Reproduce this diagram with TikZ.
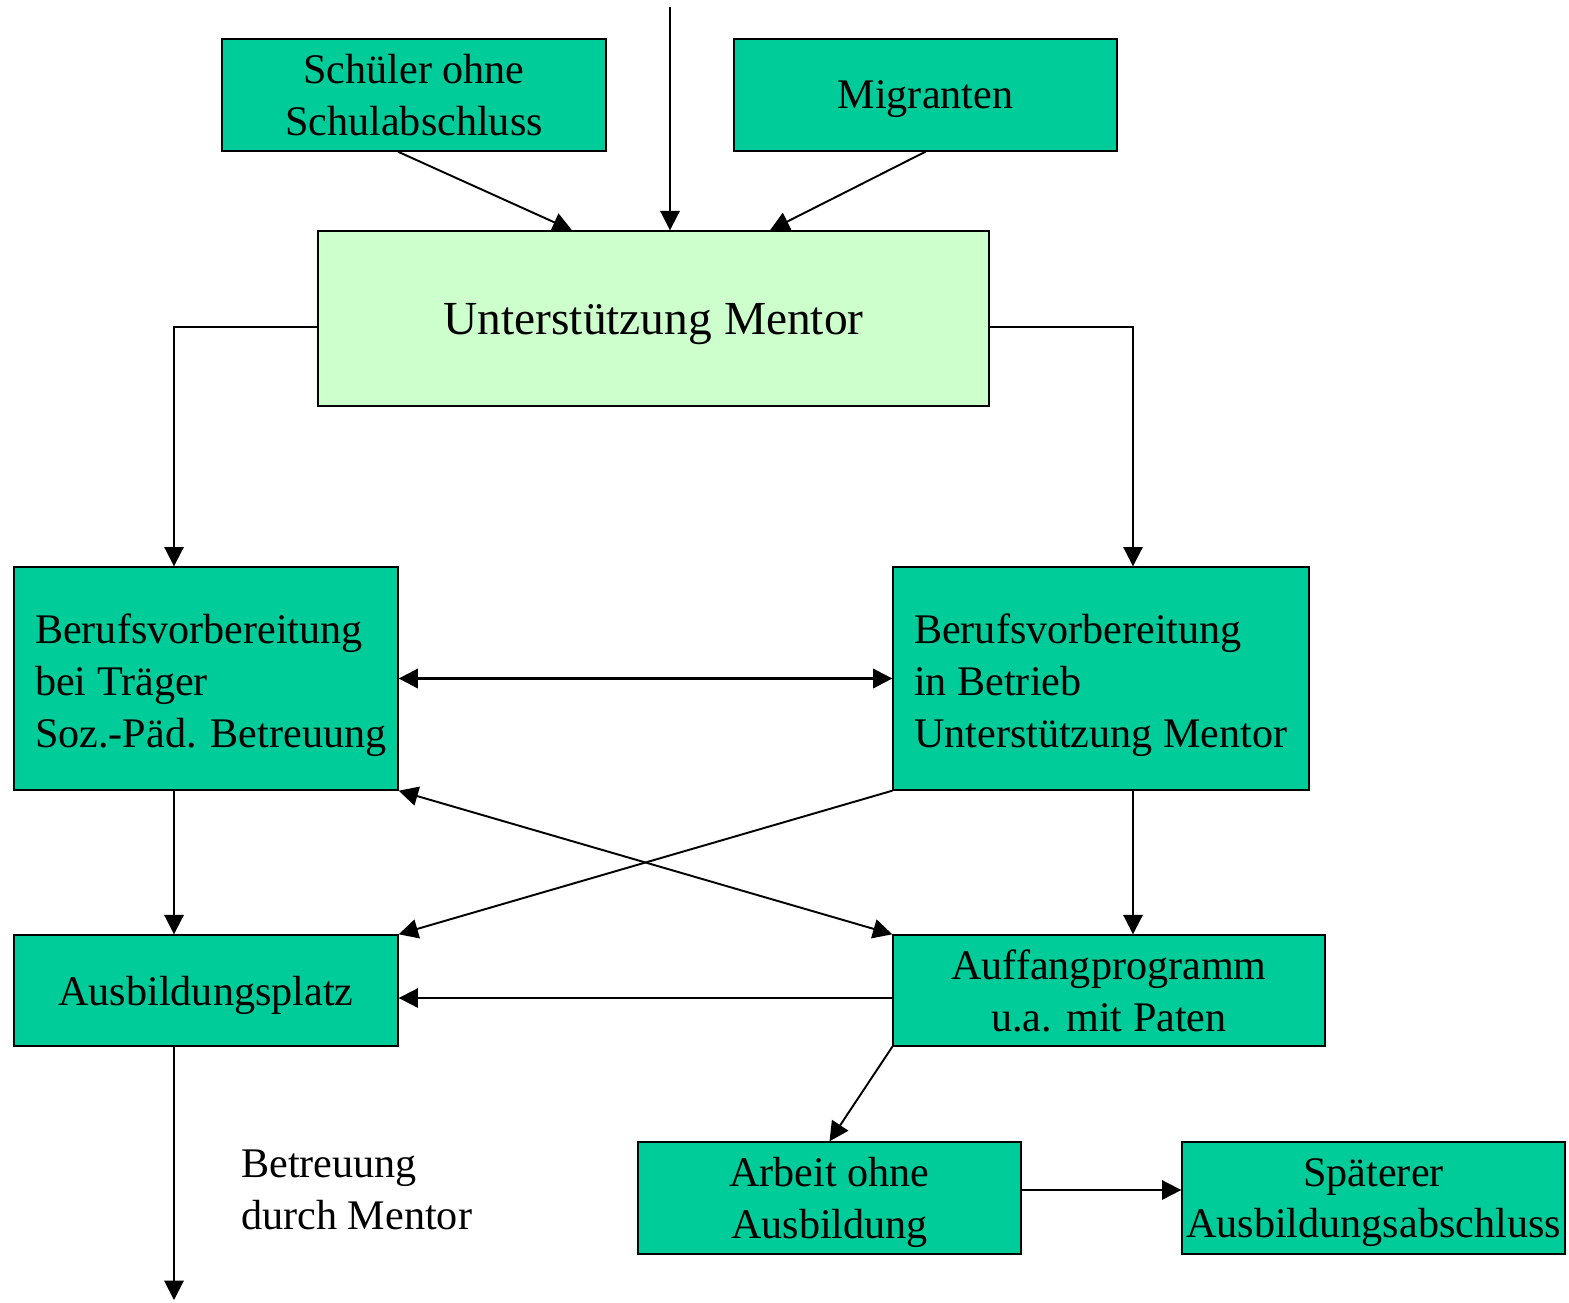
\documentclass[tikz,border=0pt]{standalone}
\usepackage{fontspec}
\setmainfont{Liberation Serif}
\usetikzlibrary{arrows.meta}
\definecolor{boxgreen}{HTML}{00CC99}
\definecolor{lightgreen}{HTML}{CCFFCC}
\begin{document}
\begin{tikzpicture}[x=0.02cm,y=-0.02cm,
  box/.style={draw=black, line width=0.8pt, fill=boxgreen, inner sep=0pt, align=center,
    text depth=0pt, font=\fontsize{24}{29.5}\selectfont},
  lbox/.style={draw=black, line width=0.8pt, fill=boxgreen, inner ysep=0pt, align=flush left,
    inner xsep=0.42cm, font=\fontsize{24}{29.5}\selectfont},
  arr/.style={line width=1.1pt, -{Triangle[length=11pt,width=11pt]}},
  darr/.style={line width=1.6pt, {Triangle[length=11pt,width=11pt]}-{Triangle[length=11pt,width=11pt]}},
  ]
\useasboundingbox (0,0) rectangle (1569,1302);
\node[box, minimum width=7.68cm, minimum height=2.24cm] (S) at (414,95) {Schüler ohne\\Schulabschluss};
\node[box, minimum width=7.66cm, minimum height=2.24cm] (Mi) at (925.5,95) {Migranten};
\node[box, fill=lightgreen, minimum width=13.42cm, minimum height=3.5cm, font=\fontsize{27}{32}\selectfont] (M) at (653.5,318.5) {Unterstützung Mentor};
\node[lbox, text width=6.84cm, minimum height=4.46cm] (BT) at (206,678.5) {\rule{0pt}{24.5pt}\mbox{Berufsvorbereitung}\\\mbox{bei Träger}\\\mbox{Soz.-Päd. Betreuung}};
\node[lbox, text width=7.48cm, minimum height=4.46cm] (BB) at (1101,678.5) {\rule{0pt}{24.5pt}\mbox{Berufsvorbereitung}\\\mbox{in Betrieb}\\\mbox{Unterstützung Mentor}};
\node[box, minimum width=7.68cm, minimum height=2.22cm] (AP) at (206,990.5) {Ausbildungsplatz};
\node[box, minimum width=8.64cm, minimum height=2.22cm] (AF) at (1109,990.5) {Auffangprogramm\\u.a. mit Paten};
\node[box, minimum width=7.66cm, minimum height=2.24cm] (AO) at (829.5,1198) {Arbeit ohne\\Ausbildung};
\node[box, minimum width=7.66cm, minimum height=2.24cm] (SA) at (1373.5,1198) {Späterer\\Ausbildungsabschluss};
\node[anchor=west, inner sep=0pt, align=left, font=\fontsize{24}{29.5}\selectfont] (BM) at (241,1190) {Betreuung\\durch Mentor};
\coordinate (top) at (670,7);
\coordinate (bot) at (174,1300);
% connectors
\draw[arr] (top) -- (top |- M.north);
\draw[arr] ([xshift=-0.32cm]S.south) -- ([xshift=-1.63cm]M.north);
\draw[arr] (Mi.south) -- ([xshift=2.33cm]M.north);
\draw[arr] ([yshift=-0.17cm]M.west) -| ([xshift=-0.64cm]BT.north);
\draw[arr] ([yshift=-0.17cm]M.east) -| ([xshift=0.64cm]BB.north);
\draw[darr] (BT.east) -- (BB.west);
\draw[arr] ([xshift=-0.64cm]BT.south) -- ([xshift=-0.64cm]AP.north);
\draw[arr] ([xshift=0.64cm]BB.south) -- ([xshift=0.48cm]AF.north);
\draw[arr] (BB.south west) -- (AP.north east);
\draw[darr, line width=1.1pt] (BT.south east) -- (AF.north west);
\draw[arr] ([yshift=-0.15cm]AF.west) -- ([yshift=-0.15cm]AP.east);
\draw[arr] (AF.south west) -- (AO.north);
\draw[arr] ([yshift=0.16cm]AO.east) -- ([yshift=0.16cm]SA.west);
\draw[arr] ([xshift=-0.64cm]AP.south) -- (bot);
\end{tikzpicture}
\end{document}
